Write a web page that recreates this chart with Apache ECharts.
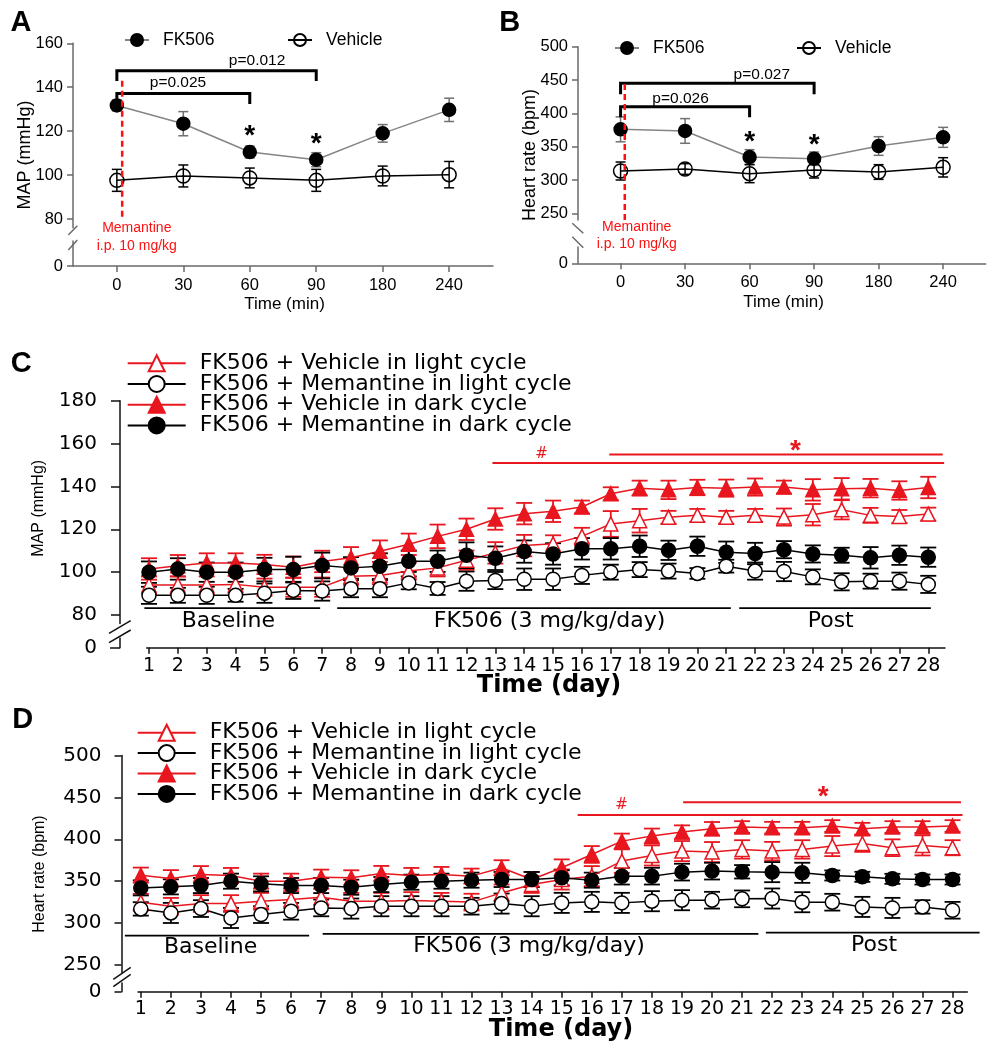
<!DOCTYPE html>
<html><head><meta charset="utf-8">
<script src="https://cdn.jsdelivr.net/npm/echarts@6/dist/echarts.min.js"></script>
<style>html,body{margin:0;padding:0;background:#fff}#c{width:996px;height:1050px}</style>
</head><body><div id="c"></div>
<script>
// ---------------- DATA ----------------
// Panels A/B: acute memantine, time points (min)
const timeLabels = ['0', '30', '60', '90', '180', '240'];
const mapFK     = [131.7, 123.4, 110.5, 107.0, 119.0, 129.7];
const mapFKErr  = [2.5, 5.5, 2.7, 3.2, 4.0, 5.3];
const mapVeh    = [97.6, 99.6, 98.7, 97.6, 99.6, 100.2];
const mapVehErr = [5.0, 5.0, 4.5, 5.0, 4.5, 6.0];
const hrFK      = [376, 373.6, 334.5, 332, 351, 364];
const hrFKErr   = [18.7, 18.5, 11, 10, 14, 15];
const hrVeh     = [313.5, 316.5, 309.5, 315, 312, 319];
const hrVehErr  = [13.5, 8, 13.5, 12, 11, 14.5];
const aTicks = [80, 100, 120, 140, 160];
const bTicks = [250, 300, 350, 400, 450, 500];
// brackets: [fromIdx, toIdx, barValue, dropValue, labelX, labelValue]
const aBrackets = [[0, 3, 147.5, 142.8, 2.11, 151.9], [0, 2, 137.2, 132.4, 0.92, 141.9]];
const aBracketLabels = ['p=0.012', 'p=0.025'];
const bBrackets = [[0, 3, 445, 428.6, 2.19, 458], [0, 2, 410, 394, 0.93, 422.6]];
const bBracketLabels = ['p=0.027', 'p=0.026'];
const aStars = [[2, 119.9], [3, 116.3]];
const bStars = [[2, 364], [3, 360]];
// injection marker: [x, top, bottom]
const aInjection = [[0.08, 143, 80]];
const bInjection = [[0.065, 444, 240]];
const injectionText = ['Memantine', 'i.p. 10 mg/kg'];
const aInjTextPos = [[0.30, 75.9], [0.30, 67.7]];
const bInjTextPos = [[0.25, 230], [0.25, 203.5]];

// Panels C/D: chronic, days
const days = [1,2,3,4,5,6,7,8,9,10,11,12,13,14,15,16,17,18,19,20,21,22,23,24,25,26,27,28];
const seriesNames = ['FK506 + Vehicle in light cycle', 'FK506 + Memantine in light cycle',
                     'FK506 + Vehicle in dark cycle', 'FK506 + Memantine in dark cycle'];
const cLightVeh    = [94,94,94,94.3,93,93,93,98.1,98.4,100.5,102,105.6,109,112.4,113.2,116.7,122.5,124,125.6,126.5,125.6,126.5,125.7,126.8,129.1,126.5,126,127.1];
const cLightVehErr = [4,4,4,4,4,4.5,4.5,4,4,4,4,4.5,5,5,4,4,6,5.5,3,3,3,3,4,5,4.5,3.5,3,3];
const cLightMem    = [89.2,89.2,89.2,89.2,90.2,91.5,91.2,92.3,92.3,95,92.4,95.8,96.1,96.7,96.7,98.5,100,101.2,100.5,99.4,102.8,100.5,100.3,97.8,95.5,95.8,95.8,94.3];
const cLightMemErr = [4,3.5,4,3,4.5,4,4.5,4,4,3,3,4.5,4,5,5,4,3.5,3.5,3.5,2.5,3,4,4.5,3.5,4,3.5,4,4];
const cDarkVeh     = [101.5,103,104.3,104.3,103.6,102.3,105,106.7,109.8,113,116.7,120,124.8,127.3,128.4,130.4,136.6,139.2,138.4,139.5,139.2,139.7,139.7,138.4,138.9,139.2,138.1,139.5];
const cDarkVehErr  = [5,5,4.5,4.5,4.5,5,5,5,5,5,5.5,5,5,5,5,3,3,3.5,4.3,3.6,4,4,3,5,5,4.3,4.3,5];
const cDarkMem     = [100,101.5,100,100,101.2,101.2,103.1,102,102.8,105.1,105.1,107.9,106.5,109.6,108.5,110.9,110.9,112.1,110.2,112.1,109.3,108.7,110.5,108.5,107.9,106.7,107.9,107];
const cDarkMemErr  = [5,5,4.5,4.5,5.5,6,6,5,6,5,5,6,5.5,5.2,5,5,5,5,4.5,4.5,5,5,4,4,3.5,5,4.5,4.5];
const dLightVeh    = [324.9,320,323.3,323.3,326,328,330.9,326,326,326.9,326,325,336,346,352,356,374,380.7,385.9,384.7,387.9,385.9,387.9,391.9,395,389.9,392.7,389.9];
const dLightVehErr = [10,10,10,10,10,10,10,10,10,10,10,10,10,10,12,12,14,12,12,12,11,11,11,12,10,10,12,9];
const dLightMem    = [316.9,312.1,317.3,306.1,310.1,314.1,318.1,317.3,320.1,320.1,320.1,320.1,323.3,320.1,324.1,325.3,324.1,326.1,327.3,327.3,328.9,329.3,324.9,324.9,319.3,318.1,319.3,315.3];
const dLightMemErr = [8,12,10,12,10,10,10,12,12,12,12,10,12,12,12,12,12,12,12,10,10,12,12,10,12,12,8,10];
const dDarkVeh     = [357.2,353.2,358,356.8,350,350,354.8,354,359.2,356.8,358,356,366,352,366,381.9,397.8,403.8,408.6,412.6,414.6,413.8,413.8,415.8,412.6,414.6,414.6,415.8];
const dDarkVehErr  = [9,10,10,9,9,9,9,9,9,9,9,9,9,9,10,10,9,9,8,8,7,7,7,7,7,7,7,7];
const dDarkMem     = [342,343.2,344.8,350,346.8,344.8,344.8,342.8,346,348.8,350,351.2,352,352,354,351.2,356,356,360.8,362,361.2,360.8,360,356.8,355.2,352.8,352,352];
const dDarkMemErr  = [9,9,9,9,9,9,9,9,9,9,9,9,9,9,9,9,10,10,10,10,8,12,12,6,6,6,6,6];
const cTicks = [80, 100, 120, 140, 160, 180];
const dTicks = [250, 300, 350, 400, 450, 500];
// significance lines: [fromDay, toDay, value, labelX, labelValue]
const cSig = [[12.9, 28.55, 150.9, 14.6, 155.1], [16.95, 28.5, 154.9, 23.4, 159.4]];
const dSig = [[15.53, 28.33, 429, 16.99, 441], [19.04, 28.28, 444.2, 23.7, 456.8]];
const sigLabels = ['#', '*'];
// phases: [fromDay, toDay, lineValue, labelX, labelValue]
const phaseNames = ['Baseline', 'FK506 (3 mg/kg/day)', 'Post'];
const cPhases = [[0.84, 6.93, 83.2, 3.75, 77.3], [7.52, 21.16, 83.2, 14.88, 77.3], [21.45, 28.09, 83.2, 24.62, 77.3]];
const dPhases = [[0.47, 6.6, 285, 3.32, 271], [7.05, 21.54, 287, 13.91, 272], [21.79, 28.9, 288.5, 25.39, 274]];

// ---------------- STYLE ----------------
const RED = '#e8161e';
const INJ = '#ff1010';
const GAX = '#6a6a6a';
const ARIAL = '"Liberation Sans", Arial, sans-serif';
const WIDE = '"DejaVu Sans", Verdana, sans-serif';
const tIdx = timeLabels.map((_, i) => i);

function yAx(gi, min, max, ticks, o) {
  return { gridIndex: gi, type: 'value', min: min, max: max, offset: o.offset || 0,
    axisLine: { show: true, onZero: false, lineStyle: { color: o.color, width: 1.5 } },
    axisTick: { show: true, customValues: ticks, length: o.tl, lineStyle: { color: o.color, width: 1.5 } },
    axisLabel: { show: true, customValues: ticks, color: '#000', fontSize: o.fs, fontFamily: o.ff, margin: o.margin },
    splitLine: { show: false } };
}
function xAx(gi, min, max, ticks, labels, o) {
  if (!o) return { gridIndex: gi, type: 'value', min: min, max: max, show: false, axisLine: { onZero: false }, splitLine: { show: false } };
  return { gridIndex: gi, type: 'value', min: min, max: max,
    axisLine: { show: true, onZero: false, lineStyle: { color: o.color, width: 1.5 } },
    axisTick: { show: true, customValues: ticks, length: o.tl, lineStyle: { color: o.color, width: 1.5 } },
    axisLabel: { show: true, customValues: ticks, color: '#000', fontSize: o.fs, fontFamily: o.ff, margin: o.margin,
      formatter: function (v) { const k = ticks.indexOf(Math.round(v)); return k < 0 ? '' : labels[k]; } },
    splitLine: { show: false } };
}
function lineS(name, gi, xs, vals, sym, size, fill, stroke, lineColor) {
  return { type: 'line', name: name, xAxisIndex: gi, yAxisIndex: gi,
    data: xs.map((x, i) => [x, vals[i]]), symbol: sym, symbolSize: size, showSymbol: true,
    itemStyle: { color: fill, borderColor: stroke, borderWidth: 1.5 },
    lineStyle: { color: lineColor, width: 1.5 }, z: 5, silent: true, emphasis: { disabled: true } };
}
function errS(gi, xs, vals, errs, cap, color, lw) {
  return { type: 'custom', xAxisIndex: gi, yAxisIndex: gi, z: 4, silent: true,
    data: xs.map((x, i) => [x, vals[i], errs[i]]),
    renderItem: function (p, api) {
      const x = api.value(0), y = api.value(1), e = api.value(2);
      const t = api.coord([x, y + e]), b = api.coord([x, y - e]);
      const st = { stroke: color, lineWidth: lw };
      return { type: 'group', children: [
        { type: 'line', shape: { x1: t[0], y1: t[1], x2: b[0], y2: b[1] }, style: st },
        { type: 'line', shape: { x1: t[0] - cap, y1: t[1], x2: t[0] + cap, y2: t[1] }, style: st },
        { type: 'line', shape: { x1: b[0] - cap, y1: b[1], x2: b[0] + cap, y2: b[1] }, style: st } ] };
    } };
}
function txt(x, y, text, font, fill, dy) {
  return { type: 'text', x: x, y: y + (dy || 0), style: { text: text, font: font, fill: fill,
    align: 'center', verticalAlign: 'middle', textAlign: 'center', textVerticalAlign: 'middle' } };
}
function bracketS(gi, rows, labels) {
  return { type: 'custom', xAxisIndex: gi, yAxisIndex: gi, z: 6, silent: true, data: rows,
    renderItem: function (p, api) {
      const x1 = api.value(0), x2 = api.value(1), y = api.value(2), yd = api.value(3);
      const pts = [[x1, yd], [x1, y], [x2, y], [x2, yd]].map(d => api.coord(d));
      const lp = api.coord([api.value(4), api.value(5)]);
      return { type: 'group', children: [
        { type: 'polyline', shape: { points: pts }, style: { stroke: '#000', lineWidth: 3, fill: null } },
        txt(lp[0], lp[1], labels[p.dataIndex], '15.5px ' + ARIAL, '#000') ] };
    } };
}
function starS(gi, rows) {
  return { type: 'custom', xAxisIndex: gi, yAxisIndex: gi, z: 6, silent: true, data: rows,
    renderItem: function (p, api) {
      const c = api.coord([api.value(0), api.value(1)]);
      return txt(c[0], c[1], '*', 'bold 28px ' + ARIAL, '#000', 5);
    } };
}
function injS(gi, rows, textPos) {
  return { type: 'custom', xAxisIndex: gi, yAxisIndex: gi, z: 6, silent: true, data: rows,
    renderItem: function (p, api) {
      const t = api.coord([api.value(0), api.value(1)]), b = api.coord([api.value(0), api.value(2)]);
      const kids = [{ type: 'line', shape: { x1: t[0], y1: t[1], x2: b[0], y2: b[1] },
        style: { stroke: INJ, lineWidth: 2.5, lineDash: [6, 4] } }];
      textPos.forEach((tp, k) => { const c = api.coord(tp); kids.push(txt(c[0], c[1], injectionText[k], '14px ' + ARIAL, INJ)); });
      return { type: 'group', children: kids };
    } };
}
function sigS(gi, rows) {
  return { type: 'custom', xAxisIndex: gi, yAxisIndex: gi, z: 6, silent: true, data: rows,
    renderItem: function (p, api) {
      const a = api.coord([api.value(0), api.value(2)]), b = api.coord([api.value(1), api.value(2)]);
      const c = api.coord([api.value(3), api.value(4)]);
      const lab = sigLabels[p.dataIndex];
      const font = lab === '*' ? 'bold 28px ' + ARIAL : '15px ' + WIDE;
      return { type: 'group', children: [
        { type: 'line', shape: { x1: a[0], y1: a[1], x2: b[0], y2: b[1] }, style: { stroke: RED, lineWidth: 2 } },
        txt(c[0], c[1], lab, font, RED, lab === '*' ? 6 : 0) ] };
    } };
}
function phaseS(gi, rows) {
  return { type: 'custom', xAxisIndex: gi, yAxisIndex: gi, z: 6, silent: true, data: rows,
    renderItem: function (p, api) {
      const a = api.coord([api.value(0), api.value(2)]), b = api.coord([api.value(1), api.value(2)]);
      const c = api.coord([api.value(3), api.value(4)]);
      return { type: 'group', children: [
        { type: 'line', shape: { x1: a[0], y1: a[1], x2: b[0], y2: b[1] }, style: { stroke: '#000', lineWidth: 1.8 } },
        txt(c[0], c[1], phaseNames[p.dataIndex], '22px ' + WIDE, '#000') ] };
    } };
}
function gline(x1, y1, x2, y2, color) {
  return { type: 'line', shape: { x1: x1, y1: y1, x2: x2, y2: y2 }, style: { stroke: color, lineWidth: 1.5 }, silent: true };
}
function gtext(x, y, text, font, rot) {
  return { type: 'text', x: x, y: y, rotation: rot || 0, silent: true,
    style: { text: text, font: font, fill: '#000', align: 'center', verticalAlign: 'middle', textAlign: 'center', textVerticalAlign: 'middle' } };
}

const oA = { color: GAX, tl: 6, fs: 16.5, ff: ARIAL, margin: 10 };
const oAx = { color: GAX, tl: 6, fs: 16.5, ff: ARIAL, margin: 11 };
const oC = { color: '#111', tl: 9, fs: 20, ff: WIDE, margin: 23 };
const oD = { color: '#111', tl: 7, fs: 20, ff: WIDE, margin: 20 };
const oCx = { color: '#111', tl: 6, fs: 19, ff: WIDE, margin: 9 };
const oDx = { color: '#111', tl: 6, fs: 19, ff: WIDE, margin: 8 };

const legendA = (name, left, top) => ({ data: [name], left: left, top: top, orient: 'horizontal', padding: 0,
  itemWidth: 24, itemHeight: 15, selectedMode: false,
  textStyle: { fontSize: 17.5, fontFamily: ARIAL, color: '#000', padding: [0, 0, 0, 9] } });
const legendC = (left, top, gap) => ({ data: seriesNames, left: left, top: top, orient: 'vertical', padding: 0,
  itemWidth: 58, itemHeight: 20, itemGap: gap, selectedMode: false,
  textStyle: { fontSize: 22, fontFamily: WIDE, color: '#000', lineHeight: 20, padding: [0, 0, 0, 9] } });

const option = {
  animation: false,
  backgroundColor: '#fff',
  grid: [
    { left: 73, top: 43.3, width: 420, height: 184.5, outerBoundsMode: 'none' },
    { left: 73, top: 241, width: 420, height: 25, outerBoundsMode: 'none' },
    { left: 578, top: 46.7, width: 407.7, height: 173.3, outerBoundsMode: 'none' },
    { left: 578, top: 247, width: 407.7, height: 16.3, outerBoundsMode: 'none' },
    { left: 120, top: 400.7, width: 825, height: 222.9, outerBoundsMode: 'none' },
    { left: 146.7, top: 638, width: 798.3, height: 9.7, outerBoundsMode: 'none' },
    { left: 121.5, top: 755.5, width: 845.8, height: 217, outerBoundsMode: 'none' },
    { left: 138, top: 983, width: 829.3, height: 8.7, outerBoundsMode: 'none' }
  ],
  xAxis: [
    xAx(0, -0.66, 5.66),
    xAx(1, -0.66, 5.66, tIdx, timeLabels, oAx),
    xAx(2, -0.66, 5.66),
    xAx(3, -0.66, 5.66, tIdx, timeLabels, oAx),
    xAx(4, -0.005, 28.58),
    xAx(5, 0.92, 28.58, days, days.map(String), oCx),
    xAx(6, 0.358, 28.49),
    xAx(7, 0.907, 28.49, days, days.map(String), oDx)
  ],
  yAxis: [
    yAx(0, 76, 160, aTicks, oA),
    yAx(1, 0, 10, [0], oA),
    yAx(2, 240, 500, bTicks, oA),
    yAx(3, 0, 10, [0], oA),
    yAx(4, 76, 180, cTicks, oC),
    yAx(5, 0, 10, [0], Object.assign({}, oC, { offset: 26.7, tl: 10 })),
    yAx(6, 241, 500, dTicks, oD),
    yAx(7, 0, 10, [0], Object.assign({}, oD, { offset: 16.5 }))
  ],
  legend: [
    legendA('FK506', 124, 31),
    legendA('Vehicle', 287, 31),
    legendA('FK506', 614, 39),
    legendA('Vehicle', 796, 39),
    legendC(126.7, 352.3, -1.3),
    legendC(136.7, 721.7, -1.6)
  ],
  series: [
    // A
    errS(0, tIdx, mapFK, mapFKErr, 5, '#707070', 1.5),
    errS(0, tIdx, mapVeh, mapVehErr, 5, '#000', 1.5),
    lineS('FK506', 0, tIdx, mapFK, 'circle', 13, '#000', '#000', '#858585'),
    lineS('Vehicle', 0, tIdx, mapVeh, 'circle', 14, 'rgba(0,0,0,0)', '#000', '#000'),
    bracketS(0, aBrackets, aBracketLabels),
    starS(0, aStars),
    injS(0, aInjection, aInjTextPos),
    // B
    errS(2, tIdx, hrFK, hrFKErr, 5, '#707070', 1.5),
    errS(2, tIdx, hrVeh, hrVehErr, 5, '#000', 1.5),
    lineS('FK506', 2, tIdx, hrFK, 'circle', 13, '#000', '#000', '#858585'),
    lineS('Vehicle', 2, tIdx, hrVeh, 'circle', 14, 'rgba(0,0,0,0)', '#000', '#000'),
    bracketS(2, bBrackets, bBracketLabels),
    starS(2, bStars),
    injS(2, bInjection, bInjTextPos),
    // C
    errS(4, days, cLightVeh, cLightVehErr, 8, RED, 1.8),
    errS(4, days, cDarkVeh, cDarkVehErr, 8, RED, 1.8),
    errS(4, days, cLightMem, cLightMemErr, 8, '#000', 1.8),
    errS(4, days, cDarkMem, cDarkMemErr, 8, '#000', 1.8),
    lineS(seriesNames[0], 4, days, cLightVeh, 'triangle', 14, '#fff', RED, RED),
    lineS(seriesNames[1], 4, days, cLightMem, 'circle', 14, '#fff', '#000', '#000'),
    lineS(seriesNames[2], 4, days, cDarkVeh, 'triangle', 14, RED, RED, RED),
    lineS(seriesNames[3], 4, days, cDarkMem, 'circle', 14, '#000', '#000', '#000'),
    sigS(4, cSig),
    phaseS(4, cPhases),
    // D
    errS(6, days, dLightVeh, dLightVehErr, 8, RED, 1.8),
    errS(6, days, dDarkVeh, dDarkVehErr, 8, RED, 1.8),
    errS(6, days, dLightMem, dLightMemErr, 8, '#000', 1.8),
    errS(6, days, dDarkMem, dDarkMemErr, 8, '#000', 1.8),
    lineS(seriesNames[0], 6, days, dLightVeh, 'triangle', 14, '#fff', RED, RED),
    lineS(seriesNames[1], 6, days, dLightMem, 'circle', 14, '#fff', '#000', '#000'),
    lineS(seriesNames[2], 6, days, dDarkVeh, 'triangle', 14, RED, RED, RED),
    lineS(seriesNames[3], 6, days, dDarkMem, 'circle', 14, '#000', '#000', '#000'),
    sigS(6, dSig),
    phaseS(6, dPhases)
  ],
  graphic: [
    gtext(21, 23, 'A', 'bold 29px ' + ARIAL),
    gtext(509.7, 22.5, 'B', 'bold 29px ' + ARIAL),
    gtext(21.2, 364.2, 'C', 'bold 29px ' + ARIAL),
    gtext(22.8, 720, 'D', 'bold 29px ' + ARIAL),
    gtext(25, 155, 'MAP (mmHg)', '18px ' + ARIAL, Math.PI / 2),
    gtext(530, 155, 'Heart rate (bpm)', '18px ' + ARIAL, Math.PI / 2),
    gtext(38.3, 508.3, 'MAP (mmHg)', '16px ' + ARIAL, Math.PI / 2),
    gtext(40, 874, 'Heart rate (bpm)', '16px ' + ARIAL, Math.PI / 2),
    gtext(284.5, 304, 'Time (min)', '17px ' + ARIAL),
    gtext(783.5, 302.5, 'Time (min)', '17px ' + ARIAL),
    gtext(549, 686, 'Time (day)', 'bold 24px ' + WIDE),
    gtext(561, 1030, 'Time (day)', 'bold 24px ' + WIDE),
    // axis break marks
    gline(68.3, 235, 77.3, 225.7, GAX), gline(68.3, 250, 77.3, 240, GAX),
    gline(572.3, 223.3, 583.3, 233.3, GAX), gline(572.3, 236.7, 583.3, 247.7, GAX),
    gline(109, 633.3, 130.7, 620.7, '#111'), gline(109, 642.7, 130.7, 630, '#111'),
    gline(113.3, 979.3, 130.7, 967.3, '#111'), gline(113.3, 986.7, 130.7, 974.3, '#111')
  ]
};
const chart = echarts.init(document.getElementById('c'), null, { renderer: 'canvas' });
chart.setOption(option);
</script></body></html>
